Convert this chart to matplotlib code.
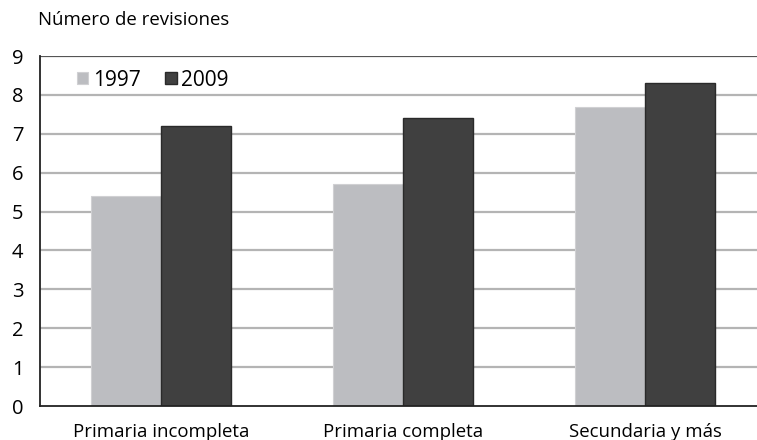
import matplotlib
matplotlib.use("Agg")
import matplotlib.pyplot as plt
import numpy as np

plt.rcParams['font.family'] = ['Open Sans', 'DejaVu Sans']

categorias = ["Primaria incompleta", "Primaria completa", "Secundaria y más"]
anios = ["1997", "2009"]
valores_1997 = [5.4, 5.7, 7.7]
valores_2009 = [7.2, 7.4, 8.3]
ticks_y = list(range(0, 10))

fig = plt.figure(figsize=(7.57, 4.40), dpi=100)
ax = fig.add_axes([40/757, 1 - 406/440, 1 - 40/757, 350/440])

x = np.arange(len(categorias))
w = 0.29

# grid lines under the bars
for t in ticks_y[1:-1]:
    ax.axhline(t, color='#b4b4b4', lw=1.6, zorder=0)
ax.axhline(9, color='#555555', lw=1.6, zorder=0)

ax.bar(x - w/2, valores_1997, w, color='#bcbdc1', edgecolor='#d0d0d3', lw=0.8,
       label=anios[0], zorder=2)
ax.bar(x + w/2, valores_2009, w, color='#404040', edgecolor='#2a2a2a', lw=1.0,
       label=anios[1], zorder=2)

ax.set_xlim(-0.5, (757 - 40) / 242 - 0.5)
ax.set_ylim(0, 9)
ax.set_yticks(ticks_y)
ax.set_xticks(x)
ax.set_xticklabels(categorias, fontsize=13.4)
ax.tick_params(axis='y', length=0, labelsize=14.5, pad=12)
ax.tick_params(axis='x', length=0, pad=12)

for s in ['top', 'right']:
    ax.spines[s].set_visible(False)
ax.spines['left'].set_color('#222222')
ax.spines['bottom'].set_color('#222222')
ax.spines['left'].set_linewidth(1.3)
ax.spines['bottom'].set_linewidth(1.3)

leg = ax.legend(loc='upper left', bbox_to_anchor=(0.04, 0.985), ncol=2, frameon=False,
                fontsize=15, handlelength=0.55, handleheight=0.55, handletextpad=0.2,
                columnspacing=1.2, borderaxespad=0)

fig.text(38/757, 1 - 20/440, "Número de revisiones", fontsize=13.4, va='center', ha='left')

fig.savefig("out.png", dpi=100)
